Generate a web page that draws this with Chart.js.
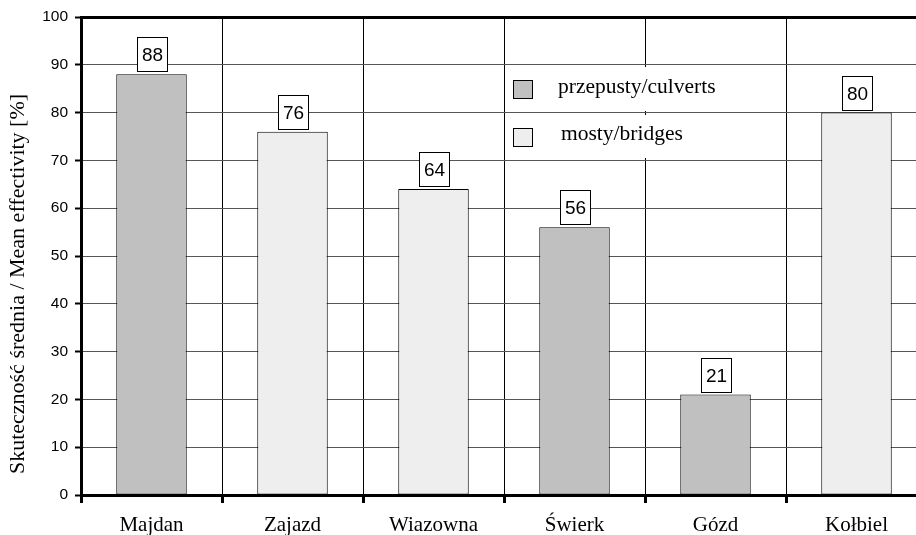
<!DOCTYPE html>
<html>
<head>
<meta charset="utf-8">
<script src="https://cdn.jsdelivr.net/npm/chart.js@4/dist/chart.umd.min.js"></script>
<style>
  html, body { margin: 0; padding: 0; background: #fff; overflow: hidden; }
  #wrap { width: 940px; height: 535px; }
</style>
</head>
<body>
<div id="wrap"><canvas id="c" width="940" height="535"></canvas></div>
<script>
// Sites and mean effectivity of each passage
const categories = ['Majdan', 'Zajazd', 'Wiazowna', 'Świerk', 'Gózd', 'Kołbiel'];
const values = [88, 76, 64, 56, 21, 80];
const passageType = ['culvert', 'bridge', 'bridge', 'culvert', 'culvert', 'bridge'];
const legendLabels = ['przepusty/culverts', 'mosty/bridges'];
const yTicks = [0, 10, 20, 30, 40, 50, 60, 70, 80, 90, 100];
const yTitle = 'Skuteczność średnia / Mean effectivity [%]';

const fillFor = { culvert: '#c0c0c0', bridge: '#eeeeee' };
const SERIF = '"Liberation Serif", "Times New Roman", serif';
const SANS = '"Liberation Sans", Arial, sans-serif';

// White page background
const background = {
  id: 'background',
  beforeDraw(chart) {
    const ctx = chart.ctx;
    ctx.save();
    ctx.fillStyle = '#fff';
    ctx.fillRect(0, 0, chart.width, chart.height);
    ctx.restore();
  }
};

// Rotated y-axis title, set a little below the middle of the axis
const axisTitle = {
  id: 'axisTitle',
  afterDraw(chart) {
    const ctx = chart.ctx;
    ctx.save();
    ctx.translate(24, 284);
    ctx.rotate(-Math.PI / 2);
    ctx.fillStyle = '#000';
    ctx.font = '22px ' + SERIF;
    ctx.textAlign = 'center';
    ctx.textBaseline = 'alphabetic';
    ctx.fillText(yTitle, 0, 0);
    ctx.restore();
  }
};

// Legend entries, each on its own white panel over the grid
const legendBlock = {
  id: 'legendBlock',
  beforeDatasetsDraw(chart) {
    const ctx = chart.ctx;
    ctx.save();
    ctx.fillStyle = '#fff';
    ctx.fillRect(506, 67, 276, 44);
    ctx.fillRect(506, 115, 276, 43);
    ctx.restore();
  },
  afterDatasetsDraw(chart) {
    const ctx = chart.ctx;
    const entries = [
      { color: fillFor.culvert, box: [513.5, 80.5], text: [558, 93] },
      { color: fillFor.bridge, box: [513.5, 128.5], text: [561, 140] }
    ];
    ctx.save();
    entries.forEach((e, i) => {
      ctx.fillStyle = e.color;
      ctx.fillRect(e.box[0], e.box[1], 19, 18);
      ctx.strokeStyle = '#000';
      ctx.lineWidth = 1;
      ctx.strokeRect(e.box[0], e.box[1], 19, 18);
      ctx.fillStyle = '#000';
      ctx.font = '21.5px ' + SERIF;
      ctx.textAlign = 'left';
      ctx.textBaseline = 'alphabetic';
      ctx.fillText(legendLabels[i], e.text[0], e.text[1]);
    });
    ctx.restore();
  }
};

// Boxed value labels above each bar
const valueBoxes = {
  id: 'valueBoxes',
  afterDatasetsDraw(chart) {
    const ctx = chart.ctx;
    const meta = chart.getDatasetMeta(0);
    ctx.save();
    meta.data.forEach((bar, i) => {
      const w = 30, h = 34;
      const cx = Math.round(bar.x);
      const bottom = Math.round(bar.y) - 3;
      const left = cx - w / 2;
      const top = bottom - h;
      ctx.fillStyle = '#fff';
      ctx.fillRect(left, top, w, h);
      ctx.strokeStyle = '#000';
      ctx.lineWidth = 1;
      ctx.strokeRect(left + 0.5, top + 0.5, w, h);
      ctx.fillStyle = '#000';
      ctx.font = '19px ' + SANS;
      ctx.textAlign = 'center';
      ctx.textBaseline = 'middle';
      ctx.fillText(String(values[i]), cx + 0.5, top + h / 2 + 1.5);
    });
    ctx.restore();
  }
};

new Chart(document.getElementById('c'), {
  type: 'bar',
  data: {
    labels: categories,
    datasets: [{
      data: values,
      backgroundColor: passageType.map(t => fillFor[t]),
      borderColor: '#000',
      borderWidth: 1,
      borderSkipped: false,
      barPercentage: 0.5,
      categoryPercentage: 1.0
    }]
  },
  options: {
    responsive: false,
    devicePixelRatio: 1,
    animation: false,
    layout: { padding: { top: 17, right: 13, left: 0, bottom: 0 } },
    plugins: {
      legend: { display: false },
      tooltip: { enabled: false }
    },
    scales: {
      x: {
        offset: true,
        grid: {
          offset: true,
          color: '#000',
          lineWidth: 1,
          drawTicks: true,
          tickLength: 8,
          tickWidth: 3,
          tickColor: '#000'
        },
        border: { display: true, color: '#000', width: 3 },
        ticks: {
          color: '#000',
          font: { family: SERIF, size: 21 },
          padding: 10,
          maxRotation: 0
        },
        afterFit(scale) { scale.height = 40; }
      },
      y: {
        min: 0,
        max: 100,
        afterBuildTicks(scale) { scale.ticks = yTicks.map(v => ({ value: v })); },
        grid: {
          color: ctx => (ctx.tick && ctx.tick.value === 100) ? '#000' : '#555',
          lineWidth: ctx => (ctx.tick && ctx.tick.value === 100) ? 3 : 1,
          drawTicks: true,
          tickLength: 6,
          tickWidth: 2,
          tickColor: '#000'
        },
        border: { display: true, color: '#000', width: 3 },
        ticks: {
          color: '#000',
          font: { family: SANS, size: 15.5 },
          padding: 7
        },
        title: { display: false },
        afterFit(scale) { scale.width = 81; }
      }
    }
  },
  plugins: [background, axisTitle, legendBlock, valueBoxes]
});
</script>
</body>
</html>
